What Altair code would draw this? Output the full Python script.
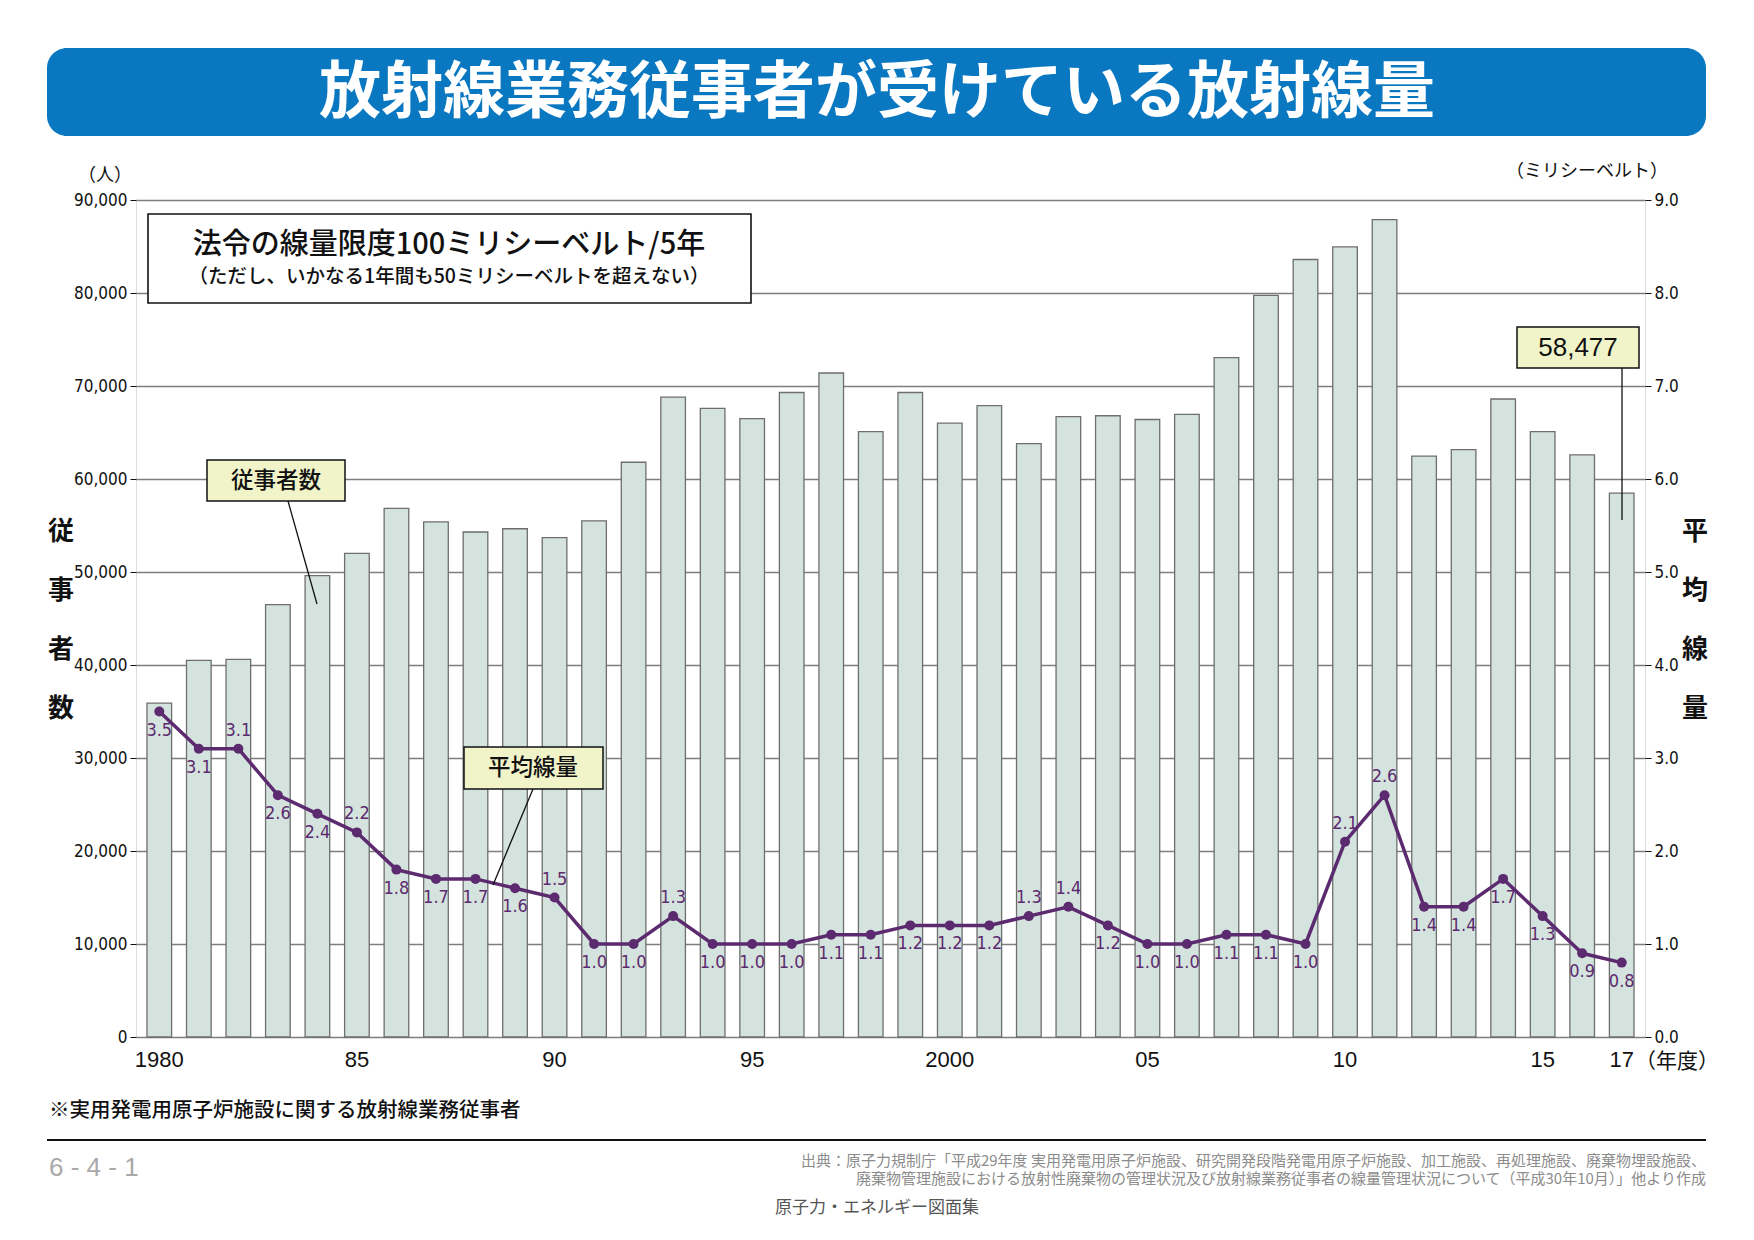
import altair as alt
import pandas as pd

# ---------------- data ----------------
years = list(range(1980, 2018))
workers = [35900, 40500, 40600, 46500, 49600, 52000, 56850, 55400, 54300, 54650,
           53700, 55500, 61800, 68800, 67600, 66500, 69300, 71400, 65100, 69300,
           66000, 67900, 63800, 66700, 66800, 66400, 66950, 73050, 79750, 83600,
           84950, 87900, 62450, 63150, 68600, 65100, 62600, 58477]
dose = [3.5, 3.1, 3.1, 2.6, 2.4, 2.2, 1.8, 1.7, 1.7, 1.6,
        1.5, 1.0, 1.0, 1.3, 1.0, 1.0, 1.0, 1.1, 1.1, 1.2,
        1.2, 1.2, 1.3, 1.4, 1.2, 1.0, 1.0, 1.1, 1.1, 1.0,
        2.1, 2.6, 1.4, 1.4, 1.7, 1.3, 0.9, 0.8]
# label placement for the dose values (True = below the point)
label_below = [True, True, False, True, True, False, True, True, True, True,
               False, True, True, False, True, True, True, True, True, True,
               True, True, False, False, True, True, True, True, True, True,
               False, False, True, True, True, True, True, True]

title_text = "放射線業務従事者が受けている放射線量"
law_line1 = "法令の線量限度100ミリシーベルト/5年"
law_line2 = "（ただし、いかなる1年間も50ミリシーベルトを超えない）"
footnote = "※実用発電用原子炉施設に関する放射線業務従事者"
source1 = "出典：原子力規制庁「平成29年度 実用発電用原子炉施設、研究開発段階発電用原子炉施設、加工施設、再処理施設、廃棄物埋設施設、"
source2 = "廃棄物管理施設における放射性廃棄物の管理状況及び放射線業務従事者の線量管理状況について（平成30年10月）」他より作成"
book = "原子力・エネルギー図面集"
page_no = "6 - 4 - 1"

df = pd.DataFrame({"year": years, "workers": workers, "dose": dose,
                   "below": label_below})
df["dose_label"] = [f"{v:.1f}" for v in dose]

JP = "Noto Sans CJK JP"
NUM = "Liberation Sans Narrow, DejaVu Sans Condensed, Liberation Sans, sans-serif"
NUMR = "Liberation Sans, Arial, sans-serif"
PURPLE = "#5c2a6f"

W, H = 1509, 837

x_axis = alt.Axis(
    title=None, ticks=False, domain=False, labelAngle=0,
    labelFont=NUMR, labelFontSize=22, labelColor="#111", labelPadding=12,
    labelExpr="(datum.value == 1980 || datum.value == 2000) ? '' + datum.value : "
              "((datum.value % 5 == 0 || datum.value == 2017) ? substring('' + datum.value, 2, 4) : '')",
)
x_enc = alt.X("year:O", scale=alt.Scale(paddingInner=0.377, paddingOuter=0.278), axis=x_axis)

left_axis = alt.Axis(
    title=None, values=list(range(0, 90001, 10000)), format=",d",
    labelFont=NUM, labelFontSize=17, labelColor="#111", labelPadding=3,
    tickSize=6, tickColor="#111", domain=False,
    grid=True, gridColor="#7e7e7e", gridWidth=1.3,
)
right_axis = alt.Axis(
    title=None, orient="right", values=[0, 1, 2, 3, 4, 5, 6, 7, 8, 9], format=".1f",
    labelFont=NUM, labelFontSize=17, labelColor="#111", labelPadding=3,
    tickSize=6, tickColor="#111", domain=False, grid=False,
)
dose_y = alt.Y("dose:Q", scale=alt.Scale(domain=[0, 9], nice=False), axis=right_axis)

base = alt.Chart(df)

bars = base.mark_bar(fill="#d4e3dd", stroke="#6e6e6e", strokeWidth=1.3).encode(
    x=x_enc,
    y=alt.Y("workers:Q", scale=alt.Scale(domain=[0, 90000], nice=False), axis=left_axis),
)

line = base.mark_line(color=PURPLE, strokeWidth=3.5).encode(x=x_enc, y=dose_y)
pts = base.mark_point(filled=True, color=PURPLE, size=100, opacity=1).encode(x=x_enc, y=dose_y)
lab_below = base.transform_filter("datum.below").mark_text(
    font=NUM, fontSize=18, color=PURPLE, dy=19, baseline="middle").encode(
    x=x_enc, y=dose_y, text="dose_label:N")
lab_above = base.transform_filter("!datum.below").mark_text(
    font=NUM, fontSize=18, color=PURPLE, dy=-18, baseline="middle").encode(
    x=x_enc, y=dose_y, text="dose_label:N")
dose_layer = alt.layer(line, pts, lab_below, lab_above)

one = alt.Chart(pd.DataFrame({"k": [0]}))


def rect(x1, x2, y1, y2, fill, stroke=None, sw=0, radius=0):
    kw = dict(fill=fill, cornerRadius=radius)
    if stroke:
        kw.update(stroke=stroke, strokeWidth=sw)
    return one.mark_rect(**kw).encode(
        x=alt.value(x1), x2=alt.value(x2), y=alt.value(y1), y2=alt.value(y2))


def text(t, x, y, size, font=JP, color="#111", weight="normal", align="center",
         baseline="middle", **kw):
    return one.mark_text(font=font, fontSize=size, color=color, fontWeight=weight,
                         align=align, baseline=baseline, **kw).encode(
        x=alt.value(x), y=alt.value(y), text=alt.value(t))


def seg(x1, y1, x2, y2, color="#111", w=1.3):
    return one.mark_rule(color=color, strokeWidth=w).encode(
        x=alt.value(x1), x2=alt.value(x2), y=alt.value(y1), y2=alt.value(y2))


YELLOW = "#f1f4c9"
annotations = [
    # title bar
    rect(-89, 1570, -152, -64, "#0a77c1", radius=20),
    text(title_text, 741, -106, 62, color="white", weight="bold"),
    # units
    text("（人）", -4, -24, 18, align="right"),
    text("（ミリシーベルト）", 1532, -28, 18, align="right"),
    text("（年度）", 1499, 862, 21, align="left"),
    # axis titles (vertical)
    text("従\n事\n者\n数", -75, 319, 26, weight="bold", baseline="top",
         lineBreak="\n", lineHeight=59),
    text("平\n均\n線\n量", 1559, 319, 26, weight="bold", baseline="top",
         lineBreak="\n", lineHeight=59),
    # legal limit box
    rect(12, 615, 14, 103, "white", stroke="#111", sw=1.6),
    text(law_line1, 313, 45, 29, weight=500),
    text(law_line2, 313, 77, 19.5, weight=500),
    # callouts
    seg(152, 301, 181, 404),
    rect(71, 209, 260, 301, YELLOW, stroke="#111", sw=1.5),
    text("従事者数", 140, 281, 22.5, weight=500),
    seg(397, 589, 357, 685),
    rect(328, 467, 547, 589, YELLOW, stroke="#111", sw=1.5),
    text("平均線量", 397, 568, 22.5, weight=500),
    seg(1486, 168, 1486, 320),
    rect(1381, 1503, 127, 168, YELLOW, stroke="#111", sw=1.5),
    text("58,477", 1442, 148, 26, font=NUMR),
    # footer
    text(footnote, -87, 911, 20.5, align="left", weight=500),
    seg(-89, 940, 1570, 940, color="#111", w=2),
    text(page_no, -87, 968, 26, font=NUMR, color="#a9a9a9", align="left"),
    text(source1, 1570, 961, 15, color="#8c8c8c", align="right"),
    text(source2, 1570, 979, 15, color="#8c8c8c", align="right"),
    text(book, 741, 1008, 17, color="#555"),
]

main = alt.layer(bars, dose_layer).resolve_scale(y="independent")

chart = alt.layer(main, *annotations).properties(
    width=W, height=H,
    autosize=alt.AutoSizeParams(type="none"),
    padding={"left": 128, "top": 192, "right": 101, "bottom": 195},
).configure_view(stroke="#111", strokeWidth=1.6).configure(background="white")

chart.save("out.html", embed_options={"renderer": "svg", "actions": False})
